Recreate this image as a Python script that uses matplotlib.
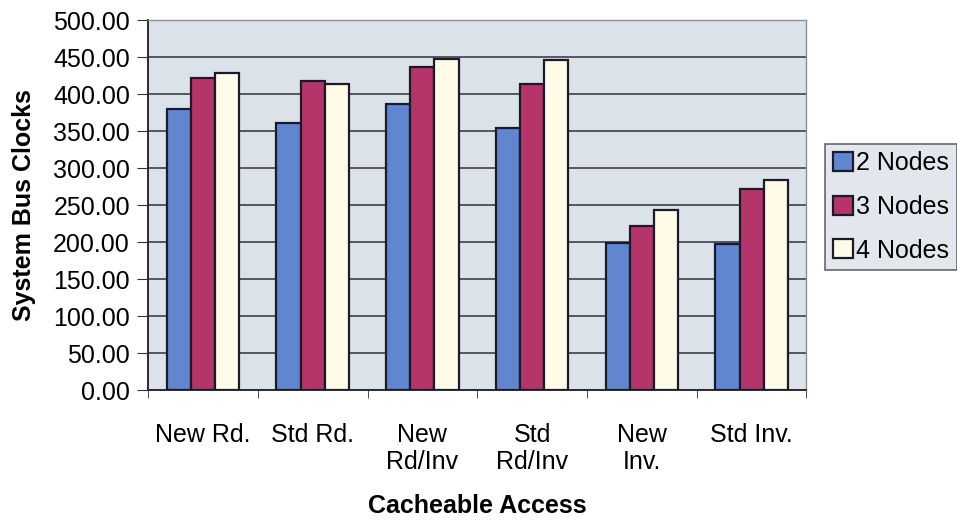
import numpy as np
import matplotlib
matplotlib.use("Agg")
import matplotlib.pyplot as plt

# Cacheable access latencies
categories = ["New Rd.", "Std Rd.", "New\nRd/Inv", "Std\nRd/Inv", "New\nInv.", "Std Inv."]
nodes2 = [380, 361, 387, 354, 198, 197]
nodes3 = [422, 417, 437, 414, 222, 272]
nodes4 = [429, 414, 447, 446, 243, 284]
series_names = ["2 Nodes", "3 Nodes", "4 Nodes"]
colors = ["#5f86cf", "#b5346a", "#fffbe8"]

plt.rcParams['font.family'] = ['Liberation Sans', 'DejaVu Sans']
FS = 18

fig = plt.figure(figsize=(9.57, 5.21), dpi=100)
ax = fig.add_axes([0.1547, 0.2514, 0.688, 0.7102])
ax.set_facecolor("#dce2e9")

x = np.arange(len(categories))
w = 0.22
for i, (vals, name, col) in enumerate(zip([nodes2, nodes3, nodes4], series_names, colors)):
    ax.bar(x + (i - 1) * w, vals, w, color=col, edgecolor="#1a1a2a",
           linewidth=1.6, label=name, zorder=3)

ax.set_ylim(0, 500)
ax.set_xlim(-0.5, len(categories) - 0.5)
ax.set_yticks(np.arange(0, 501, 50))
ax.set_yticklabels(["%.2f" % v for v in np.arange(0, 501, 50)], fontsize=FS)
ax.yaxis.grid(True, color="#3a3f4a", linewidth=1.2, zorder=1)

ax.set_xticks(x)
ax.set_xticklabels(categories, fontsize=FS, linespacing=1.15)
ax.tick_params(axis="x", which="major", length=0, pad=24)
ax.set_xticks(np.arange(-0.5, len(categories), 1), minor=True)
ax.tick_params(axis="x", which="minor", length=6, color="#333333")
ax.tick_params(axis="y", length=8, color="#333333", pad=5)

for side in ["left", "bottom"]:
    ax.spines[side].set_color("#2a2a33")
    ax.spines[side].set_linewidth(1.4)
for side in ["top", "right"]:
    ax.spines[side].set_color("#8a8f98")
    ax.spines[side].set_linewidth(1.0)

ax.set_ylabel("System Bus Clocks", fontsize=FS, fontweight="bold", labelpad=12)
ax.set_xlabel("Cacheable Access", fontsize=FS, fontweight="bold", labelpad=14)

leg = fig.legend(loc="upper left", bbox_to_anchor=(825 / 957, 1 - 144 / 521),
                 fontsize=FS, frameon=True, fancybox=False, edgecolor="#444444",
                 facecolor="#dce2e9", handlelength=0.8, handleheight=0.8,
                 handletextpad=0.15, labelspacing=0.78, borderpad=0.3,
                 borderaxespad=0.0)
leg.get_frame().set_linewidth(1.2)

fig.savefig("out.png", dpi=100)
